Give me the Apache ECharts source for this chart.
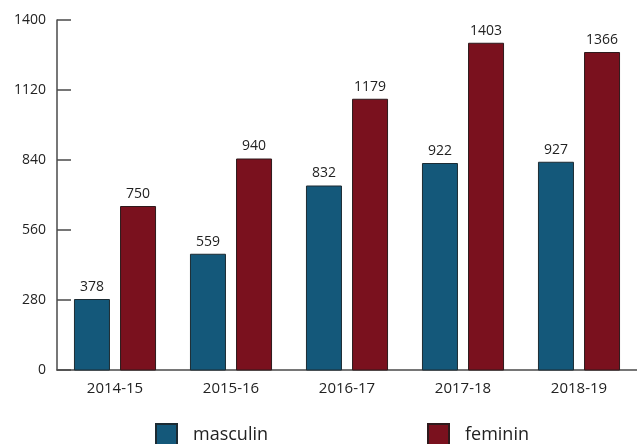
<!DOCTYPE html>
<html>
<head>
<meta charset="utf-8">
<script src="https://cdn.jsdelivr.net/npm/echarts@6/dist/echarts.min.js"></script>
<style>
html, body { margin: 0; padding: 0; background: #fff; }
#chart { width: 637px; height: 444px; }
</style>
</head>
<body>
<div id="chart"></div>
<script>
var years = ['2014-15', '2015-16', '2016-17', '2017-18', '2018-19'];
var masculin = [378, 559, 832, 922, 927];
var feminin = [750, 940, 1179, 1403, 1366];
var yTicks = [0, 280, 560, 840, 1120, 1400];
// in the source picture the bars sit ~94 units below the printed axis
var barOffset = 94;

var myChart = echarts.init(document.getElementById('chart'));
var fontName = 'Open Sans';
var axisColor = '#4a4a4a';

function legendBox(left, name) {
    return {
        top: 423,
        left: left,
        itemWidth: 21,
        itemHeight: 21,
        icon: 'rect',
        padding: 0,
        textStyle: { fontSize: 18, color: '#222', fontFamily: fontName, padding: [0, 0, 0, 11] },
        data: [name]
    };
}

var option = {
    animation: false,
    textStyle: { fontFamily: fontName },
    grid: { left: 57, right: 0, top: 20, bottom: 74 },
    legend: [legendBox(155, 'masculin'), legendBox(427, 'feminin')],
    xAxis: {
        type: 'category',
        data: years,
        axisLine: { lineStyle: { color: axisColor, width: 1.5 } },
        axisTick: { inside: true, length: 11, lineStyle: { color: axisColor, width: 1.5 } },
        axisLabel: { fontSize: 15, color: '#222', margin: 11 }
    },
    yAxis: {
        type: 'value',
        min: barOffset + yTicks[0],
        max: barOffset + yTicks[yTicks.length - 1],
        interval: yTicks[1] - yTicks[0],
        splitLine: { show: false },
        axisLine: { show: true, lineStyle: { color: axisColor, width: 1.5 } },
        axisTick: { show: true, inside: true, length: 14, lineStyle: { color: axisColor, width: 1.5 } },
        axisLabel: {
            fontSize: 14, color: '#222', margin: 11,
            formatter: function (v, i) { return String(yTicks[i]); }
        }
    },
    series: [
        {
            name: 'masculin',
            type: 'bar',
            data: masculin,
            barWidth: 36,
            barGap: '28%',
            itemStyle: { color: '#14587a', borderColor: '#1c2b33', borderWidth: 1 },
            label: { show: true, position: 'top', fontSize: 14, color: '#222', distance: 5 }
        },
        {
            name: 'feminin',
            type: 'bar',
            data: feminin,
            barWidth: 36,
            itemStyle: { color: '#7a111e', borderColor: '#2e1a1c', borderWidth: 1 },
            label: { show: true, position: 'top', fontSize: 14, color: '#222', distance: 5 }
        }
    ]
};
myChart.setOption(option);
</script>
</body>
</html>
